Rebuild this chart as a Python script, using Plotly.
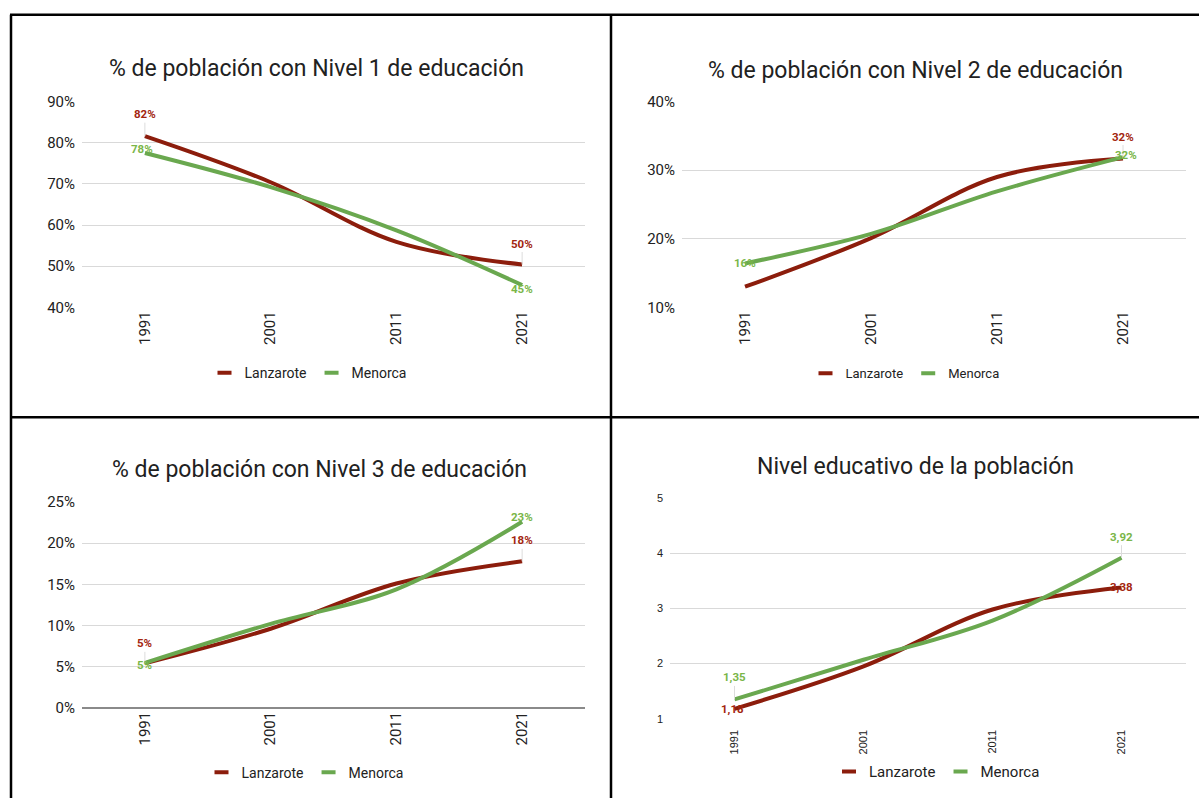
import plotly.graph_objects as go

W, H = 1199, 807

years = ["1991", "2001", "2011", "2021"]
series_names = ["Lanzarote", "Menorca"]

n1_lanzarote = [81.6, 70.4, 55.9, 50.4]
n1_menorca = [77.5, 69.2, 58.7, 45.4]
n2_lanzarote = [13.0, 20.1, 29.0, 31.7]
n2_menorca = [16.4, 20.7, 26.9, 31.9]
n3_lanzarote = [5.4, 9.6, 15.1, 17.8]
n3_menorca = [5.45, 10.2, 14.4, 22.6]
nivel_lanzarote = [1.18, 1.95, 2.98, 3.38]
nivel_menorca = [1.35, 2.07, 2.78, 3.92]

titles = [
    "% de población con Nivel 1 de educación",
    "% de población con Nivel 2 de educación",
    "% de población con Nivel 3 de educación",
    "Nivel educativo de la población",
]
y1_ticks = [40, 50, 60, 70, 80, 90]
y2_ticks = [10, 20, 30, 40]
y3_ticks = [0, 5, 10, 15, 20, 25]
y4_ticks = [1, 2, 3, 4, 5]

C_LANZ = "#8c1d0c"
C_MEN = "#6aa84f"
C_LANZ_LBL = "#a3260f"
C_MEN_LBL = "#7ab648"


def fx(px):
    return px / W


def fy(py):
    # pixel row (from top) -> paper fraction, compensating the viewer's vertical fit
    py = 14 + (py - 22) / 0.979
    return 1 - py / H


panels = [
    dict(lanz=n1_lanzarote, men=n1_menorca, yr=[40, 90], ticks=y1_ticks, pct=True,
         xd=[82, 585], yd=[307, 101], title_xy=(316, 68), leg_xy=(308, 373), legfont=14,
         tickfont=dict(family="Roboto", size=15, color="#222"), xstand=0,
         labels={("lanz", 0): (0, -22), ("men", 0): (-3, -4),
                 ("lanz", 3): (0, -21), ("men", 3): (0, 4)}),
    dict(lanz=n2_lanzarote, men=n2_menorca, yr=[10, 40], ticks=y2_ticks, pct=True,
         xd=[682, 1186], yd=[307, 101], title_xy=(915, 70), leg_xy=(905, 373), legfont=13,
         tickfont=dict(family="Roboto", size=15, color="#222"), xstand=0,
         labels={("men", 0): (0, 0),
                 ("lanz", 3): (0, -22), ("men", 3): (3, -2)}),
    dict(lanz=n3_lanzarote, men=n3_menorca, yr=[0, 25], ticks=y3_ticks, pct=True,
         xd=[82, 585], yd=[708, 502], title_xy=(319, 469), leg_xy=(305, 773), legfont=14,
         tickfont=dict(family="Roboto", size=15, color="#222"), xstand=0,
         labels={("lanz", 0): (0, -20), ("men", 0): (0, 2),
                 ("men", 3): (0, -5), ("lanz", 3): (0, -21)}),
    dict(lanz=nivel_lanzarote, men=nivel_menorca, yr=[1, 5], ticks=y4_ticks, pct=False,
         xd=[670, 1186], yd=[719, 498], title_xy=(915, 466), leg_xy=(937, 772), legfont=15,
         tickfont=dict(family="Liberation Sans", size=11, color="#222"), xstand=8,
         labels={("men", 0): (0, -22), ("lanz", 0): (-2, 0),
                 ("men", 3): (0, -21), ("lanz", 3): (0, 0)}),
]

fig = go.Figure()
annotations = []
layout = {}

for i, p in enumerate(panels, start=1):
    xa = "x" if i == 1 else f"x{i}"
    ya = "y" if i == 1 else f"y{i}"
    leg = "legend" if i == 1 else f"legend{i}"
    for key, name, col in (("lanz", series_names[0], C_LANZ), ("men", series_names[1], C_MEN)):
        fig.add_trace(go.Scatter(
            x=years, y=p[key], mode="lines", name=name,
            line=dict(color=col, width=4, shape="spline", smoothing=1.0),
            xaxis=xa, yaxis=ya, showlegend=False, hoverinfo="skip"))
    for key, name, col in (("lanz", series_names[0], C_LANZ), ("men", series_names[1], C_MEN)):
        fig.add_trace(go.Scatter(
            x=[None], y=[None], mode="markers", name=name,
            marker=dict(symbol="line-ew", size=10, color=col, line=dict(width=4, color=col)),
            xaxis=xa, yaxis=ya, legend=leg, showlegend=True))

    axis_n = "" if i == 1 else str(i)
    layout[f"xaxis{axis_n}"] = dict(
        domain=[fx(p["xd"][0]), fx(p["xd"][1])], anchor=ya, type="category",
        range=[-0.5, 3.5], tickangle=-90, tickfont=p["tickfont"],
        ticklabelstandoff=p["xstand"],
        showgrid=False, zeroline=False, showline=False, ticks="", fixedrange=True)
    ticktext = [f"{t}%" for t in p["ticks"]] if p["pct"] else [str(t) for t in p["ticks"]]
    layout[f"yaxis{axis_n}"] = dict(
        domain=[fy(p["yd"][0]), fy(p["yd"][1])], anchor=xa, range=p["yr"],
        tickvals=p["ticks"], ticktext=ticktext, tickfont=p["tickfont"],
        showgrid=True, gridcolor="#d9d9d9", gridwidth=1,
        zeroline=(i == 3), zerolinecolor="#8a8a8a", zerolinewidth=1.5,
        showline=False, ticks="", ticklabelstandoff=6, fixedrange=True)
    layout[leg] = dict(
        orientation="h", x=fx(p["leg_xy"][0]), y=fy(p["leg_xy"][1]),
        xanchor="center", yanchor="middle", bgcolor="rgba(0,0,0,0)",
        font=dict(family="Roboto", size=p["legfont"], color="#222"),
        itemwidth=30, tracegroupgap=0)

    annotations.append(dict(
        text=titles[i - 1], xref="paper", yref="paper",
        x=fx(p["title_xy"][0]), y=fy(p["title_xy"][1]),
        xanchor="center", yanchor="middle", showarrow=False,
        font=dict(family="Roboto", size=23, color="#212121")))

    for (key, idx), (ax, ay) in p["labels"].items():
        v = p[key][idx]
        txt = f"{v:.0f}%" if p["pct"] else f"{v:.2f}".replace(".", ",")
        col = C_LANZ_LBL if key == "lanz" else C_MEN_LBL
        a = dict(text=f"<b>{txt}</b>", xref=xa, yref=ya, x=idx, y=v,
                 font=dict(family="Roboto", size=11.5, color=col))
        if abs(ay) >= 10:
            a.update(showarrow=True, axref="pixel", ayref="pixel", ax=ax, ay=ay,
                     arrowhead=0, arrowwidth=1, arrowcolor="#dcdcdc")
        else:
            a.update(showarrow=False, xshift=ax, yshift=-ay)
        annotations.append(a)

lw = 2.5
shapes = [
    dict(type="line", xref="paper", yref="paper", x0=fx(10), x1=1, y0=fy(14), y1=fy(14),
         line=dict(color="black", width=lw)),
    dict(type="line", xref="paper", yref="paper", x0=fx(11), x1=fx(11), y0=fy(14), y1=0,
         line=dict(color="black", width=lw)),
    dict(type="line", xref="paper", yref="paper", x0=fx(611), x1=fx(611), y0=fy(14), y1=0,
         line=dict(color="black", width=lw)),
    dict(type="line", xref="paper", yref="paper", x0=fx(10), x1=1, y0=fy(417), y1=fy(417),
         line=dict(color="black", width=lw)),
]

fig.update_layout(
    width=W, height=H, margin=dict(l=0, r=0, t=0, b=0),
    paper_bgcolor="white", plot_bgcolor="white",
    font=dict(family="Roboto", color="#222"),
    annotations=annotations, shapes=shapes, hovermode=False,
    **layout)

fig.write_html("out.html", config={"displayModeBar": False},
               post_script="document.body.style.margin='0px';document.body.style.overflow='hidden';")
